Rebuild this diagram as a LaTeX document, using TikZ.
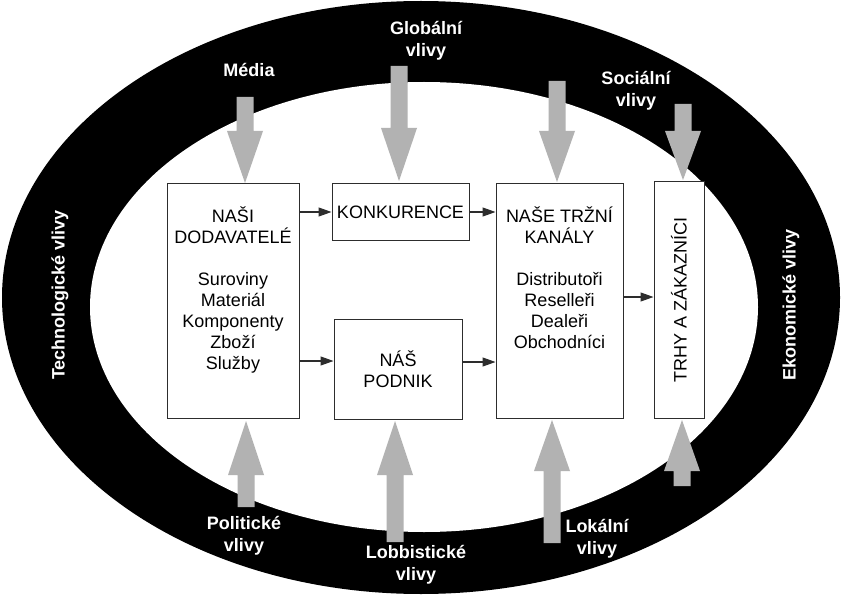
\documentclass[tikz,border=0pt]{standalone}
\usepackage{fontspec}
\setmainfont{Liberation Sans}
\usetikzlibrary{arrows.meta}
\definecolor{ag}{RGB}{178,178,178}
\definecolor{ln}{RGB}{45,45,45}
\newcommand{\garrow}[4]{\fill[ag] (#1-8.5,#2) -- (#1+8.5,#2) -- (#1+8.5,#3) -- (#1+18,#3) -- (#1,#4) -- (#1-18,#3) -- (#1-8.5,#3) -- cycle;}
\begin{document}
\begin{tikzpicture}[x=1pt,y=-1pt,
  box/.style={draw=ln, line width=1pt, fill=white, inner sep=0pt},
  txt/.style={font=\fontsize{18}{21}\selectfont, align=center, inner sep=0pt, text=black},
  lab/.style={font=\bfseries\fontsize{18}{21.5}\selectfont, align=center, inner sep=0pt, text=white},
  conn/.style={draw=ln, line width=1.2pt, -{Triangle[length=13pt,width=9pt]}}]
\useasboundingbox (0,0) rectangle (851,596);
\fill[white] (0,0) rectangle (851,596);
% ring
\fill[black] (421,297.5) ellipse [x radius=419pt, y radius=296.5pt];
\fill[white] (424,307) ellipse [x radius=334pt, y radius=225pt];
% gray influence arrows
\garrow{245}{97}{131}{183}
\garrow{399}{66}{128}{181}
\garrow{557}{81}{131}{182}
\garrow{683}{104}{131}{180}
\garrow{246}{507}{475}{421}
\garrow{395}{542}{475}{421}
\garrow{552}{543}{471}{420}
\garrow{682}{486}{471}{420}
% boxes
\node[box, minimum width=132pt, minimum height=234pt] (dod) at (233,301) {};
\node[txt, anchor=north] (dodtxt) at (233,207) {NAŠI\\DODAVATELÉ\\[21pt]Suroviny\\Materiál\\Komponenty\\Zboží\\Služby};
\node[box, txt, minimum width=137pt, minimum height=56pt] (konk) at (400.5,212) {KONKURENCE};
\node[box, txt, minimum width=128pt, minimum height=100pt] (podnik) at (398,369) {NÁŠ\\PODNIK};
\node[box, minimum width=127pt, minimum height=234pt] (kan) at (559.5,301) {};
\node[txt, anchor=north] (kantxt) at (559.5,207) {NAŠE TRŽNÍ\\KANÁLY\\[21pt]Distributoři\\Reselleři\\Dealeři\\Obchodníci};
\node[box, txt, minimum width=50pt, minimum height=236pt] (trhy) at (679,300) {\rotatebox{90}{TRHY A ZÁKAZNÍCI}};
% connectors
\draw[conn] (dod.east |- konk.west) -- (konk.west);
\draw[conn] (dod.east |- 0,361) -- (podnik.west |- 0,361);
\draw[conn] (konk.east) -- (kan.west |- konk.east);
\draw[conn] (podnik.east |- 0,362) -- (kan.west |- 0,362);
\draw[conn] (kan.east |- 0,297) -- (trhy.west |- 0,297);
% labels
\node[lab] (media) at (249,70) {Média};
\node[lab] (glob) at (426,41) {Globální\\vlivy};
\node[lab] (soc) at (636,91) {Sociální\\vlivy};
\node[lab] (pol) at (244,536) {Politické\\vlivy};
\node[lab] (lob) at (416,565) {Lobbistické\\vlivy};
\node[lab] (lok) at (597,539) {Lokální\\vlivy};
\node[lab, rotate=90] (tech) at (60,295) {Technologické vlivy};
\node[lab, rotate=90] (eko) at (791,305) {Ekonomické vlivy};
\end{tikzpicture}
\end{document}
